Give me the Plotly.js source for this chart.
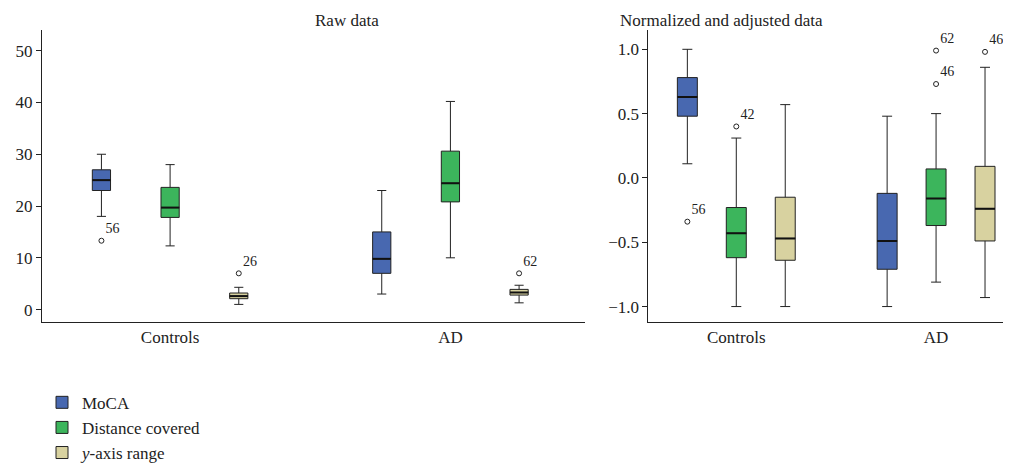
<!DOCTYPE html>
<html>
<head>
<script src="https://cdn.plot.ly/plotly-3.0.1.min.js"></script>
<style>body{margin:0}</style>
</head>
<body>
<div id="chart" style="width:1017px;height:470px"></div>
<script>
const categories = ["Controls", "AD"];
const seriesNames = ["MoCA", "Distance covered", "<i>y</i>-axis range"];
const colors = ["#4868b0", "#3cb55c", "#d8d2a0"];

// raw data [Controls, AD]: lower fence, q1, median, q3, upper fence
const rawLow = [[18, 3], [12.3, 10], [1, 1.3]];
const rawQ1 = [[23, 7], [17.8, 20.8], [2.1, 2.8]];
const rawMed = [[25, 9.8], [19.7, 24.4], [2.6, 3.3]];
const rawQ3 = [[27, 15], [23.6, 30.6], [3.2, 3.9]];
const rawHigh = [[30, 23], [28, 40.2], [4.3, 4.7]];
// outliers: series index, category index, value, label
const rawOut = [[0, 0, 13.3, "56"], [2, 0, 7, "26"], [2, 1, 7, "62"]];

const normLow = [[0.11, -1.0], [-1.0, -0.81], [-1.0, -0.93]];
const normQ1 = [[0.48, -0.71], [-0.62, -0.37], [-0.64, -0.49]];
const normMed = [[0.63, -0.49], [-0.43, -0.16], [-0.47, -0.24]];
const normQ3 = [[0.78, -0.12], [-0.23, 0.07], [-0.15, 0.09]];
const normHigh = [[1.0, 0.48], [0.31, 0.5], [0.57, 0.86]];
const normOut = [[0, 0, -0.34, "56"], [1, 0, 0.4, "42"], [1, 1, 0.73, "46"], [1, 1, 0.99, "62"], [2, 1, 0.98, "46"]];

const spacing = 0.245;
const pos = (s, c) => c + (s - 1) * spacing;
const traces = [];

function addPanel(low, q1, med, q3, high, outs, xa, ya, width, legend) {
  seriesNames.forEach((name, s) => {
    traces.push({
      type: "box", name: name, xaxis: xa, yaxis: ya,
      x: [pos(s, 0), pos(s, 1)],
      lowerfence: low[s], q1: q1[s], median: med[s], q3: q3[s], upperfence: high[s],
      width: width, whiskerwidth: 0.5,
      fillcolor: colors[s], line: {color: "#222", width: 1},
      showlegend: legend, legendgroup: name, hoverinfo: "skip"
    });
    // thicker median marks
    traces.push({
      type: "scatter", mode: "lines", xaxis: xa, yaxis: ya, showlegend: false, hoverinfo: "skip",
      x: [pos(s, 0) - width / 2, pos(s, 0) + width / 2, null, pos(s, 1) - width / 2, pos(s, 1) + width / 2],
      y: [med[s][0], med[s][0], null, med[s][1], med[s][1]],
      line: {color: "#111", width: 2}
    });
  });
  traces.push({
    type: "scatter", mode: "markers+text", xaxis: xa, yaxis: ya, showlegend: false,
    x: outs.map(o => pos(o[0], o[1])), y: outs.map(o => o[2]),
    text: outs.map(o => o[3]), textposition: "top right",
    textfont: {size: 14, family: "Liberation Serif", color: "#222"},
    marker: {symbol: "circle-open", size: 5, color: "#222", line: {width: 1}}
  });
}
addPanel(rawLow, rawQ1, rawMed, rawQ3, rawHigh, rawOut, "x", "y", 0.065, true);
addPanel(normLow, normQ1, normMed, normQ3, normHigh, normOut, "x2", "y2", 0.1, false);

const axisBase = {
  showline: true, linecolor: "#222", linewidth: 1, ticks: "outside", ticklen: 5,
  tickcolor: "#222", showgrid: false, zeroline: false
};
const layout = {
  width: 1017, height: 470,
  margin: {l: 42, r: 14, t: 30, b: 148, autoexpand: false},
  paper_bgcolor: "white", plot_bgcolor: "white",
  font: {family: "Liberation Serif", size: 17, color: "#222"},
  boxmode: "overlay",
  xaxis: Object.assign({}, axisBase, {domain: [0, 0.565], range: [-0.457, 1.48],
    tickvals: [0, 1], ticktext: categories, ticks: ""}),
  yaxis: Object.assign({}, axisBase, {range: [-2.4, 54], tickvals: [0, 10, 20, 30, 40, 50]}),
  xaxis2: Object.assign({}, axisBase, {domain: [0.631, 1], range: [-0.44, 1.335],
    tickvals: [0, 1], ticktext: categories, ticks: ""}),
  yaxis2: Object.assign({}, axisBase, {anchor: "x2", range: [-1.12, 1.15],
    tickvals: [-1, -0.5, 0, 0.5, 1], ticktext: ["−1.0", "−0.5", "0.0", "0.5", "1.0"]}),
  annotations: [
    {text: "Raw data", xref: "paper", yref: "paper", x: 0.282, y: 1.034, showarrow: false, yanchor: "middle", font: {size: 17}},
    {text: "Normalized and adjusted data", xref: "paper", yref: "paper", x: 0.815, y: 1.034, showarrow: false, yanchor: "middle", font: {size: 17}}
  ],
  legend: {x: 0.0, y: -0.215, xanchor: "left", yanchor: "top", font: {size: 17}, tracegroupgap: 0}
};
Plotly.newPlot("chart", traces, layout, {displayModeBar: false});
</script>
</body>
</html>
